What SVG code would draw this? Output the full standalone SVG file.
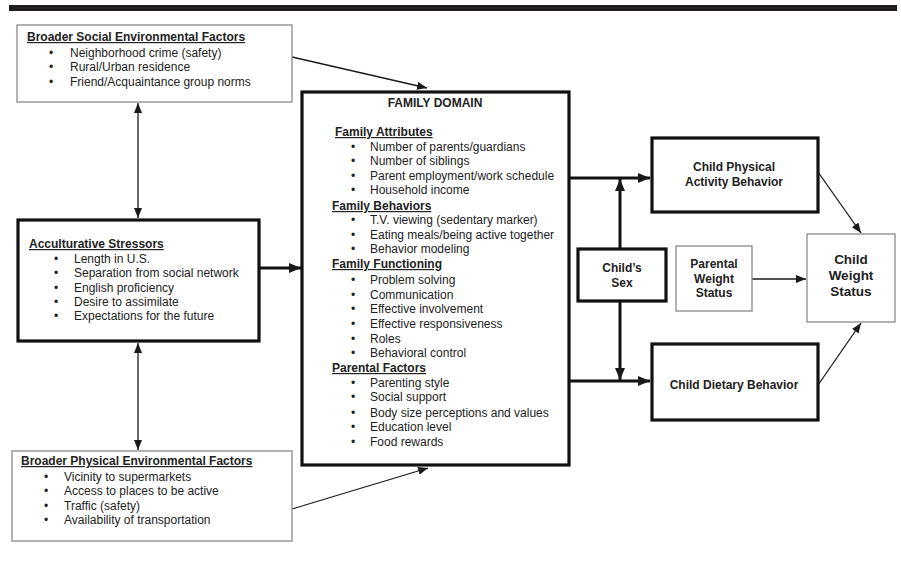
<svg xmlns="http://www.w3.org/2000/svg" width="901" height="564" viewBox="0 0 901 564">
<defs>
<marker id="ah" markerUnits="userSpaceOnUse" markerWidth="10" markerHeight="8" refX="10" refY="4" orient="auto-start-reverse"><path d="M0,0 L10,4 L0,8 z" fill="#1a1a1a"/></marker>
<marker id="ahb" markerUnits="userSpaceOnUse" markerWidth="12" markerHeight="10" refX="12" refY="5" orient="auto-start-reverse"><path d="M0,0 L12,5 L0,10 z" fill="#1a1a1a"/></marker>
</defs>
<style>
text{font-family:"Liberation Sans",Arial,sans-serif;font-size:12px;fill:#222}
.h{font-weight:bold;text-decoration:underline}
.b{font-weight:bold}
.c{text-anchor:middle}
.big{font-size:13.5px}
.thin{fill:#fff;stroke:#8a8a8a;stroke-width:1.3}
.thick{fill:#fff;stroke:#111;stroke-width:3.2}
.ln{stroke:#1a1a1a;stroke-width:1.3;fill:none}
.lb{stroke:#111;stroke-width:3;fill:none}
</style>
<rect width="901" height="564" fill="#fff"/>
<rect x="9" y="5" width="888" height="6" fill="#231f20"/>

<g id="connectors">
<line class="ln" x1="292" y1="57" x2="427" y2="88" marker-end="url(#ah)"/>
<line class="ln" x1="138" y1="103" x2="138" y2="218" marker-start="url(#ah)" marker-end="url(#ah)"/>
<line class="lb" x1="259" y1="268" x2="301" y2="268" marker-end="url(#ahb)"/>
<line class="ln" x1="138" y1="343" x2="138" y2="450" marker-start="url(#ah)" marker-end="url(#ah)"/>
<line class="ln" x1="292" y1="509" x2="428" y2="468" marker-end="url(#ah)"/>
<polyline class="lb" points="569,178 650,178" marker-end="url(#ahb)"/>
<polyline class="lb" points="569,381 650,381" marker-end="url(#ahb)"/>
<line class="lb" x1="620" y1="248" x2="620" y2="179" marker-end="url(#ahb)"/>
<line class="lb" x1="620" y1="301" x2="620" y2="380" marker-end="url(#ahb)"/>
<line class="ln" x1="752" y1="279" x2="806" y2="279" marker-end="url(#ah)"/>
<line class="ln" x1="818" y1="172" x2="861" y2="233" marker-end="url(#ah)"/>
<line class="ln" x1="818" y1="385" x2="861" y2="323" marker-end="url(#ah)"/>
</g>

<g id="social">
<rect class="thin" x="17" y="25" width="275" height="77"/>
<text class="h" x="27" y="41">Broader Social Environmental Factors</text>
<text x="49" y="57">•</text><text x="70" y="57">Neighborhood crime (safety)</text>
<text x="49" y="71">•</text><text x="70" y="71">Rural/Urban residence</text>
<text x="49" y="86">•</text><text x="70" y="86">Friend/Acquaintance group norms</text>
</g>

<g id="acculturative">
<rect class="thick" x="18" y="220" width="241" height="121"/>
<text class="h" x="29" y="248">Acculturative Stressors</text>
<text x="54" y="263">•</text><text x="74" y="263">Length in U.S.</text>
<text x="54" y="277">•</text><text x="74" y="277">Separation from social network</text>
<text x="54" y="292">•</text><text x="74" y="292">English proficiency</text>
<text x="54" y="306">•</text><text x="74" y="306">Desire to assimilate</text>
<text x="54" y="320">•</text><text x="74" y="320">Expectations for the future</text>
</g>

<g id="physical">
<rect class="thin" x="12" y="451" width="280" height="90"/>
<text class="h" x="21" y="465">Broader Physical Environmental Factors</text>
<text x="44" y="481">•</text><text x="64" y="481">Vicinity to supermarkets</text>
<text x="44" y="495">•</text><text x="64" y="495">Access to places to be active</text>
<text x="44" y="510">•</text><text x="64" y="510">Traffic (safety)</text>
<text x="44" y="524">•</text><text x="64" y="524">Availability of transportation</text>
</g>

<g id="family">
<rect class="thick" x="302" y="92" width="267" height="373"/>
<text class="b c" x="435" y="107">FAMILY DOMAIN</text>
<text class="h" x="335" y="136">Family Attributes</text>
<text x="351" y="151">•</text><text x="370" y="151">Number of parents/guardians</text>
<text x="351" y="165">•</text><text x="370" y="165">Number of siblings</text>
<text x="351" y="180">•</text><text x="370" y="180">Parent employment/work schedule</text>
<text x="351" y="194">•</text><text x="370" y="194">Household income</text>
<text class="h" x="332" y="210">Family Behaviors</text>
<text x="351" y="224">•</text><text x="370" y="224">T.V. viewing (sedentary marker)</text>
<text x="351" y="239">•</text><text x="370" y="239">Eating meals/being active together</text>
<text x="351" y="253">•</text><text x="370" y="253">Behavior modeling</text>
<text class="h" x="332" y="268">Family Functioning</text>
<text x="351" y="284">•</text><text x="370" y="284">Problem solving</text>
<text x="351" y="299">•</text><text x="370" y="299">Communication</text>
<text x="351" y="313">•</text><text x="370" y="313">Effective involvement</text>
<text x="351" y="328">•</text><text x="370" y="328">Effective responsiveness</text>
<text x="351" y="343">•</text><text x="370" y="343">Roles</text>
<text x="351" y="357">•</text><text x="370" y="357">Behavioral control</text>
<text class="h" x="332" y="372">Parental Factors</text>
<text x="351" y="387">•</text><text x="370" y="387">Parenting style</text>
<text x="351" y="401">•</text><text x="370" y="401">Social support</text>
<text x="351" y="417">•</text><text x="370" y="417">Body size perceptions and values</text>
<text x="351" y="431">•</text><text x="370" y="431">Education level</text>
<text x="351" y="446">•</text><text x="370" y="446">Food rewards</text>
</g>

<g id="child-physical-activity">
<rect class="thick" x="652" y="138" width="166" height="74"/>
<text class="b c" x="734" y="171">Child Physical</text>
<text class="b c" x="734" y="186">Activity Behavior</text>
</g>

<g id="childs-sex">
<rect class="thick" x="578" y="249" width="88" height="52"/>
<text class="b c" x="622" y="272">Child’s</text>
<text class="b c" x="622" y="287">Sex</text>
</g>

<g id="parental-weight">
<rect class="thin" x="676" y="246" width="76" height="65"/>
<text class="b c" x="714" y="268">Parental</text>
<text class="b c" x="714" y="283">Weight</text>
<text class="b c" x="714" y="297">Status</text>
</g>

<g id="child-weight">
<rect class="thin" x="807" y="234" width="88" height="88"/>
<text class="b c big" x="851" y="264">Child</text>
<text class="b c big" x="851" y="280">Weight</text>
<text class="b c big" x="851" y="296">Status</text>
</g>

<g id="child-dietary">
<rect class="thick" x="652" y="344" width="166" height="76"/>
<text class="b c" x="734" y="389">Child Dietary Behavior</text>
</g>
</svg>
